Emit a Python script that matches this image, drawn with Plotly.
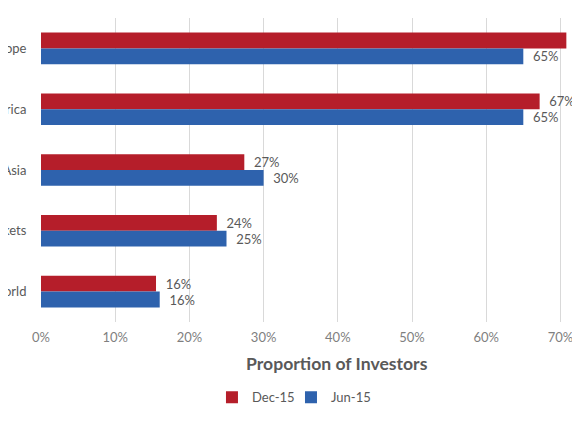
import plotly.graph_objects as go

regions = ["Europe", "North America", "Asia", "Emerging Markets", "Rest of World"]
dec_15 = [70.8, 67.2, 27.4, 23.7, 15.5]
jun_15 = [65.0, 65.0, 30.0, 25.0, 16.0]
series_names = ["Dec-15", "Jun-15"]

RED = "#B51E2A"
BLUE = "#2E62AD"
TEXT = "#595959"
GRID = "#D9D9D9"
FONT = "Lato, 'Open Sans', sans-serif"


def pct_labels(vals):
    return [f"  {round(v):.0f}%" for v in vals]


fig = go.Figure()
# one legend per series so the two entries can sit closer together
for name, vals, color, leg in [
    (series_names[0], dec_15, RED, "legend"),
    (series_names[1], jun_15, BLUE, "legend2"),
]:
    fig.add_trace(
        go.Bar(
            y=regions,
            x=vals,
            name=name,
            orientation="h",
            marker=dict(color=color, line=dict(width=0)),
            text=pct_labels(vals),
            textposition="outside",
            constraintext="none",
            cliponaxis=False,
            textfont=dict(family=FONT, size=13, color=TEXT),
            legend=leg,
        )
    )

legend_style = dict(
    orientation="h",
    xanchor="left",
    y=-0.248,
    yanchor="middle",
    font=dict(family=FONT, size=13, color=TEXT),
    itemwidth=30,
    bgcolor="rgba(0,0,0,0)",
)

# page body has an 8px margin, so the figure is sized to fit the window
fig.update_layout(
    template="none",
    width=572,
    height=427,
    margin=dict(l=33, r=0, t=10, b=113),
    paper_bgcolor="white",
    plot_bgcolor="white",
    barmode="group",
    bargap=0.48,
    bargroupgap=0,
    font=dict(family=FONT, size=13, color=TEXT),
    showlegend=True,
    legend=dict(x=0.3172, **legend_style),
    legend2=dict(x=0.4638, **legend_style),
    annotations=[
        dict(
            text="<b>Proportion of Investors</b>",
            xref="paper",
            yref="paper",
            x=0.549,
            y=-0.136,
            xanchor="center",
            yanchor="middle",
            showarrow=False,
            font=dict(family=FONT, size=17.6, color=TEXT),
        )
    ],
)

fig.update_xaxes(
    range=[0, 72.64],
    tick0=0,
    dtick=10,
    ticksuffix="%",
    showgrid=True,
    gridcolor=GRID,
    gridwidth=1,
    zeroline=False,
    showline=False,
    ticks="outside",
    ticklen=3,
    tickcolor="rgba(0,0,0,0)",
    tickfont=dict(family=FONT, size=13, color="#7F7F7F"),
    automargin=False,
    fixedrange=True,
)
fig.update_yaxes(
    autorange="reversed",
    showgrid=False,
    zeroline=False,
    showline=False,
    ticks="outside",
    ticklen=11,
    tickcolor="rgba(0,0,0,0)",
    tickfont=dict(family=FONT, size=13, color=TEXT),
    automargin=False,
    fixedrange=True,
)

fig.write_html("out.html")
